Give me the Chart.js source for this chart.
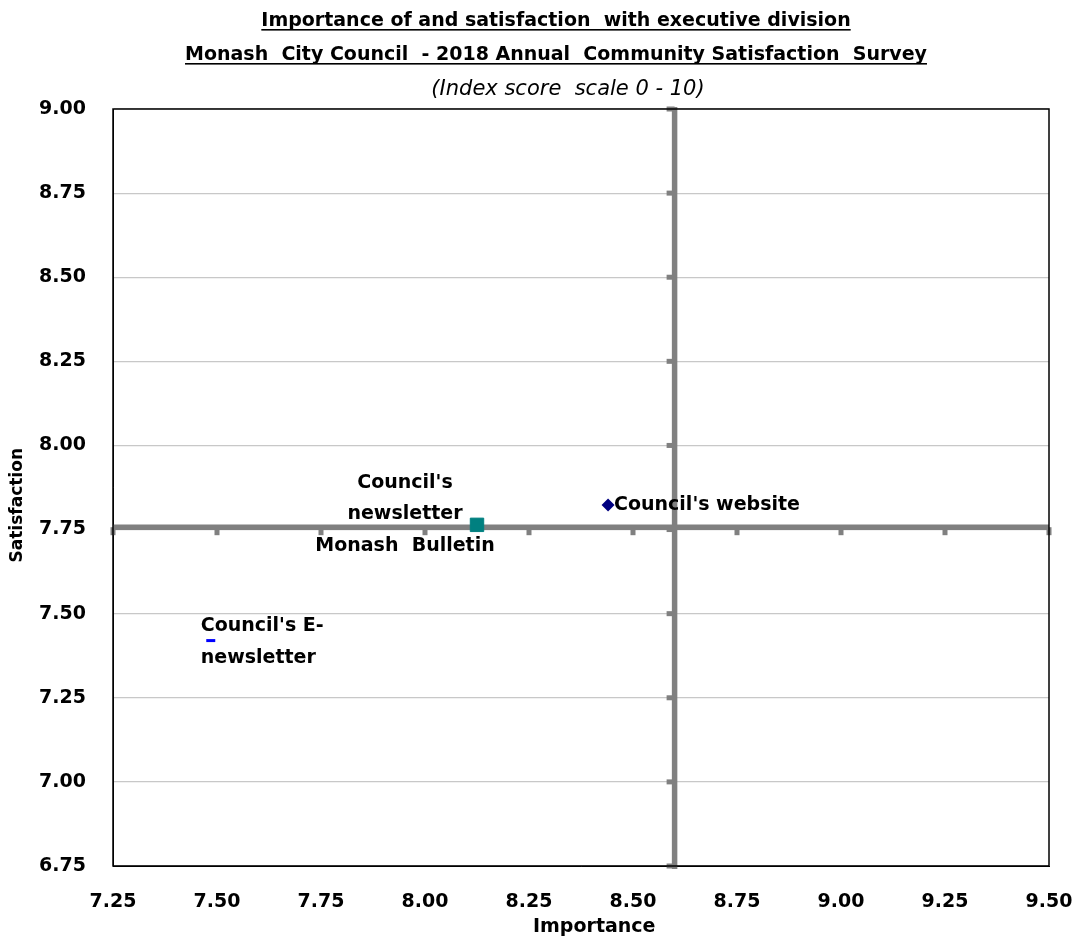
<!DOCTYPE html>
<html><head><meta charset="utf-8">
<script src="https://cdn.jsdelivr.net/npm/chart.js@4/dist/chart.umd.min.js"></script>
<style>html,body{margin:0;padding:0;background:#fff}#wrap{width:1076px;height:939px}</style>
</head><body><div id="wrap"><canvas id="c" width="1076" height="939"></canvas></div>
<script>
const titleLines = ["Importance of and satisfaction  with executive division", "Monash  City Council  - 2018 Annual  Community Satisfaction  Survey"];
const subtitle = "(Index score  scale 0 - 10)";
const xAxisTitle = "Importance";
const yAxisTitle = "Satisfaction";
const seriesNames = ["Council's website", "Council's newsletter Monash Bulletin", "Council's E-newsletter"];
const importance = [8.44, 8.125, 7.485];
const satisfaction = [7.823, 7.764, 7.42];
const labelLines = [["Council's website"], ["Council's", "newsletter", "Monash  Bulletin"], ["Council's E-", "newsletter"]];
const avgImportance = 8.60;
const avgSatisfaction = 7.757;
const xTicks = [7.25, 7.5, 7.75, 8.0, 8.25, 8.5, 8.75, 9.0, 9.25, 9.5];
const yTicks = [6.75, 7.0, 7.25, 7.5, 7.75, 8.0, 8.25, 8.5, 8.75, 9.0];

const FONT = "'DejaVu Sans', sans-serif";

const overlay = {
  id: 'overlay',
  beforeDatasetsDraw(chart) {
    const {ctx, chartArea: a, scales: {x, y}} = chart;
    ctx.save();
    ctx.strokeStyle = '#808080';
    ctx.fillStyle = '#808080';
    ctx.lineWidth = 5.5;
    const vx = x.getPixelForValue(avgImportance);
    const hy = y.getPixelForValue(avgSatisfaction);
    ctx.beginPath(); ctx.moveTo(vx, a.top - 2); ctx.lineTo(vx, a.bottom + 3); ctx.stroke();
    ctx.beginPath(); ctx.moveTo(a.left, hy); ctx.lineTo(a.right, hy); ctx.stroke();
    yTicks.forEach(v => { const py = y.getPixelForValue(v); ctx.fillRect(vx - 8, py - 2.5, 8, 5); });
    xTicks.forEach(v => { const px = x.getPixelForValue(v); ctx.fillRect(px - 2.5, hy, 5, 8); });
    ctx.restore();
  },
  afterDraw(chart) {
    const {ctx, chartArea: a, scales: {x, y}} = chart;
    ctx.save();
    ctx.strokeStyle = '#000'; ctx.lineWidth = 1.5;
    ctx.strokeRect(a.left, a.top, a.right - a.left, a.bottom - a.top);
    ctx.fillStyle = '#000';
    ctx.textAlign = 'center'; ctx.textBaseline = 'alphabetic';
    const cx = 556;
    ctx.font = 'bold 19px ' + FONT;
    [[titleLines[0], 26], [titleLines[1], 60]].forEach(([t, by]) => {
      ctx.fillText(t, cx, by);
      const w = ctx.measureText(t).width;
      ctx.fillRect(cx - w / 2, by + 3, w, 1.6);
    });
    ctx.font = 'oblique 21px ' + FONT;
    ctx.fillText(subtitle, 568, 95);
    // point labels
    ctx.font = 'bold 19px ' + FONT;
    ctx.textBaseline = 'middle';
    let px = x.getPixelForValue(importance[0]), py = y.getPixelForValue(satisfaction[0]);
    ctx.textAlign = 'left';
    ctx.fillText(labelLines[0][0], px + 6, py);
    px = x.getPixelForValue(importance[1]); py = y.getPixelForValue(satisfaction[1]);
    ctx.textAlign = 'center';
    const lx = px - 72;
    labelLines[1].forEach((t, i) => ctx.fillText(t, lx, py - 42 + i * 31.5));
    px = x.getPixelForValue(importance[2]); py = y.getPixelForValue(satisfaction[2]);
    ctx.textAlign = 'left';
    labelLines[2].forEach((t, i) => ctx.fillText(t, px - 10, py - 15 + i * 32));
    ctx.restore();
  }
};

new Chart(document.getElementById('c'), {
  type: 'scatter',
  data: {
    datasets: [
      { label: seriesNames[0], data: [{x: importance[0], y: satisfaction[0]}], pointStyle: 'rectRot', radius: 6.5, borderWidth: 0, backgroundColor: '#000080', borderColor: '#000080' },
      { label: seriesNames[1], data: [{x: importance[1], y: satisfaction[1]}], pointStyle: 'rect', radius: 9.5, borderWidth: 1, backgroundColor: '#008080', borderColor: '#008080' },
      { label: seriesNames[2], data: [{x: importance[2], y: satisfaction[2]}], pointStyle: 'line', radius: 4.5, borderWidth: 3, backgroundColor: '#0000ff', borderColor: '#0000ff' }
    ]
  },
  options: {
    responsive: false,
    animation: false,
    events: [],
    layout: { padding: { top: 109, right: 27, left: 0, bottom: 0 } },
    plugins: { legend: { display: false }, tooltip: { enabled: false }, title: { display: false } },
    scales: {
      x: {
        type: 'linear', min: 7.25, max: 9.5,
        afterBuildTicks: s => { s.ticks = xTicks.map(v => ({value: v})); },
        afterFit: s => { s.height = 73; s.paddingLeft = 0; s.paddingRight = 0; },
        ticks: { callback: v => v.toFixed(2), color: '#000', font: { family: FONT, size: 19, weight: 'bold' }, padding: 25, maxRotation: 0, autoSkip: false },
        grid: { display: false, drawTicks: false },
        border: { display: true, color: '#000' },
        title: { display: true, text: '    ' + xAxisTitle, color: '#000', font: { family: FONT, size: 19, weight: 'bold' }, padding: { top: 0, bottom: 1 } }
      },
      y: {
        type: 'linear', min: 6.75, max: 9.0,
        afterBuildTicks: s => { s.ticks = yTicks.map(v => ({value: v})); },
        afterFit: s => { s.width = 113; s.paddingTop = 0; s.paddingBottom = 0; },
        ticks: { callback: v => v.toFixed(2), color: '#000', font: { family: FONT, size: 19, weight: 'bold' }, padding: 27, autoSkip: false },
        grid: { color: '#c8c8c8', drawTicks: false, lineWidth: 1.2 },
        border: { display: true, color: '#000' },
        title: { display: true, text: yAxisTitle + '      ', color: '#000', font: { family: FONT, size: 17, weight: 'bold' }, padding: { top: 7, bottom: 0 } }
      }
    }
  },
  plugins: [overlay]
});
</script></body></html>
